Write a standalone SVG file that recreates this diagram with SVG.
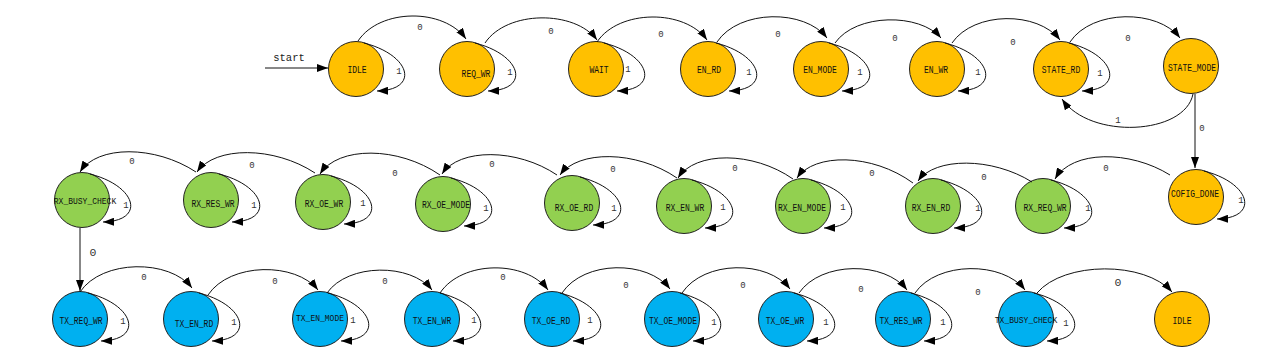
<svg xmlns="http://www.w3.org/2000/svg" width="1280" height="358" viewBox="0 0 1280 358">
<defs>
<marker id="ah" markerUnits="userSpaceOnUse" markerWidth="11" markerHeight="8" refX="11" refY="4" orient="auto"><path d="M0,0 L11,4 L0,8 z" fill="#000"/></marker>
<style>
.n circle{stroke:#222;stroke-width:1}
.y circle{fill:#FFC000}
.g circle{fill:#92D050}
.b circle{fill:#00B0F0}
.n text{font-family:"Liberation Mono",monospace;font-size:10px;fill:#111;text-anchor:middle}
.n text.s{font-size:9px}
#edges path{fill:none;stroke:#111;stroke-width:1;marker-end:url(#ah)}
#edges text{font-family:"Liberation Mono",monospace;font-size:9px;fill:#333;text-anchor:middle}
#edges text.big{font-size:11.5px}
#edges text.st{font-size:10.5px;fill:#222}
</style>
</defs>
<rect width="1280" height="358" fill="#fff"/>
<g id="nodes">
<g id="n_idle" class="n y"><circle cx="356" cy="69" r="27.5"/><text x="357" y="72.5" textLength="19.2" lengthAdjust="spacingAndGlyphs">IDLE</text></g>
<g id="n_req_wr" class="n y"><circle cx="467" cy="69" r="27.5"/><text x="476" y="76.5" textLength="28.8" lengthAdjust="spacingAndGlyphs">REQ_WR</text></g>
<g id="n_wait" class="n y"><circle cx="596" cy="69" r="27.5"/><text x="599" y="72.5" textLength="19.2" lengthAdjust="spacingAndGlyphs">WAIT</text></g>
<g id="n_en_rd" class="n y"><circle cx="708" cy="69" r="27.5"/><text x="709" y="72.5" textLength="24" lengthAdjust="spacingAndGlyphs">EN_RD</text></g>
<g id="n_en_mode" class="n y"><circle cx="821" cy="69" r="27.5"/><text x="820" y="72.5" textLength="33.6" lengthAdjust="spacingAndGlyphs">EN_MODE</text></g>
<g id="n_en_wr" class="n y"><circle cx="937" cy="69" r="27.5"/><text x="936" y="72.5" textLength="24" lengthAdjust="spacingAndGlyphs">EN_WR</text></g>
<g id="n_state_rd" class="n y"><circle cx="1061" cy="69" r="27.5"/><text x="1061" y="72.5" textLength="38.4" lengthAdjust="spacingAndGlyphs">STATE_RD</text></g>
<g id="n_state_mode" class="n y"><circle cx="1191" cy="66" r="27.5"/><text x="1192" y="70.5" textLength="48" lengthAdjust="spacingAndGlyphs">STATE_MODE</text></g>
<g id="n_rx_busy_check" class="n g"><circle cx="82" cy="200" r="27.5"/><text class="s" x="85" y="204" textLength="62.4" lengthAdjust="spacingAndGlyphs">RX_BUSY_CHECK</text></g>
<g id="n_rx_res_wr" class="n g"><circle cx="211" cy="200" r="27.5"/><text x="213" y="206.5" textLength="43.2" lengthAdjust="spacingAndGlyphs">RX_RES_WR</text></g>
<g id="n_rx_oe_wr" class="n g"><circle cx="323" cy="202" r="27.5"/><text x="324" y="206.5" textLength="38.4" lengthAdjust="spacingAndGlyphs">RX_OE_WR</text></g>
<g id="n_rx_oe_mode" class="n g"><circle cx="443" cy="204" r="27.5"/><text x="446" y="207.5" textLength="48" lengthAdjust="spacingAndGlyphs">RX_OE_MODE</text></g>
<g id="n_rx_oe_rd" class="n g"><circle cx="572" cy="203" r="27.5"/><text x="574" y="210.5" textLength="38.4" lengthAdjust="spacingAndGlyphs">RX_OE_RD</text></g>
<g id="n_rx_en_wr" class="n g"><circle cx="684" cy="206" r="27.5"/><text x="685" y="210.5" textLength="38.4" lengthAdjust="spacingAndGlyphs">RX_EN_WR</text></g>
<g id="n_rx_en_mode" class="n g"><circle cx="803" cy="206" r="27.5"/><text x="802" y="210.5" textLength="48" lengthAdjust="spacingAndGlyphs">RX_EN_MODE</text></g>
<g id="n_rx_en_rd" class="n g"><circle cx="933" cy="206" r="27.5"/><text x="931" y="210.5" textLength="38.4" lengthAdjust="spacingAndGlyphs">RX_EN_RD</text></g>
<g id="n_rx_req_wr" class="n g"><circle cx="1043" cy="206" r="27.5"/><text x="1045" y="210.5" textLength="43.2" lengthAdjust="spacingAndGlyphs">RX_REQ_WR</text></g>
<g id="n_cofig_done" class="n y"><circle cx="1196" cy="197" r="27.5"/><text x="1195" y="196.5" textLength="48" lengthAdjust="spacingAndGlyphs">COFIG_DONE</text></g>
<g id="n_tx_req_wr" class="n b"><circle cx="80" cy="319" r="27.5"/><text x="81" y="323.5" textLength="43.2" lengthAdjust="spacingAndGlyphs">TX_REQ_WR</text></g>
<g id="n_tx_en_rd" class="n b"><circle cx="191" cy="319" r="27.5"/><text x="194" y="326.5" textLength="38.4" lengthAdjust="spacingAndGlyphs">TX_EN_RD</text></g>
<g id="n_tx_en_mode" class="n b"><circle cx="320" cy="319" r="27.5"/><text class="s" x="320" y="321" textLength="48" lengthAdjust="spacingAndGlyphs">TX_EN_MODE</text></g>
<g id="n_tx_en_wr" class="n b"><circle cx="432" cy="319" r="27.5"/><text x="432" y="323.5" textLength="38.4" lengthAdjust="spacingAndGlyphs">TX_EN_WR</text></g>
<g id="n_tx_oe_rd" class="n b"><circle cx="552" cy="319" r="27.5"/><text x="551" y="323.5" textLength="38.4" lengthAdjust="spacingAndGlyphs">TX_OE_RD</text></g>
<g id="n_tx_oe_mode" class="n b"><circle cx="672" cy="319" r="27.5"/><text x="673" y="323.5" textLength="48" lengthAdjust="spacingAndGlyphs">TX_OE_MODE</text></g>
<g id="n_tx_oe_wr" class="n b"><circle cx="786" cy="319" r="27.5"/><text x="785" y="323.5" textLength="38.4" lengthAdjust="spacingAndGlyphs">TX_OE_WR</text></g>
<g id="n_tx_res_wr" class="n b"><circle cx="903" cy="319" r="27.5"/><text x="901" y="323.5" textLength="43.2" lengthAdjust="spacingAndGlyphs">TX_RES_WR</text></g>
<g id="n_tx_busy_check" class="n b"><circle cx="1026" cy="319" r="27.5"/><text class="s" x="1026" y="323" textLength="62.4" lengthAdjust="spacingAndGlyphs">TX_BUSY_CHECK</text></g>
<g id="n_idle2" class="n y"><circle cx="1182" cy="319" r="27.5"/><text x="1182" y="323.5" textLength="19.2" lengthAdjust="spacingAndGlyphs">IDLE</text></g>
</g>
<g id="edges">
<path d="M265,68 L328,68"/>
<text class="st" x="289" y="61">start</text>
<path d="M358,41 C380,8 444,8 466,39"/>
<path d="M485,43 C507,10 575,10 597,40"/>
<path d="M597,42 C619,9 685,9 707,40"/>
<path d="M717,42 C739,9 805,9 827,38"/>
<path d="M835,43 C856,13 920,13 941,38"/>
<path d="M952,43 C974,11 1038,11 1060,40"/>
<path d="M1070,42 C1092,9 1158,9 1180,38"/>
<text x="420" y="30">0</text><text x="551" y="34">0</text><text x="661" y="37">0</text><text x="778" y="37">0</text><text x="895" y="41">0</text><text x="1013" y="45">0</text><text x="1128" y="41">0</text>
<path d="M1193,94 C1185,135 1090,140 1062,99"/>
<text x="1118" y="123">1</text>
<path d="M1195,94 L1195,168"/>
<text x="1202" y="131">0</text>
<path d="M1170,175 C1130,150 1072,150 1055,179"/>
<path d="M1032,182 C992,157 935,157 918,181"/>
<path d="M913,183 C872,153 814,153 797,178"/>
<path d="M793,179 C753,151 695,151 678,178"/>
<path d="M677,178 C636,150 578,150 560,175"/>
<path d="M557,175 C517,148 459,148 442,174"/>
<path d="M440,175 C398,146 338,146 320,174"/>
<path d="M315,173 C274,146 215,146 197,172"/>
<path d="M196,172 C155,145 97,145 80,172"/>
<text x="132" y="164">0</text><text x="252" y="168">0</text><text x="395" y="176">0</text><text x="492" y="167">0</text><text x="613" y="172">0</text><text x="735" y="171">0</text><text x="872" y="176">0</text><text x="984" y="180">0</text><text x="1106" y="171">0</text>
<path d="M80,228 L80,291"/>
<text class="big" x="93" y="256">0</text>
<path d="M80,292 C102,259 170,259 192,288"/>
<path d="M208,295 C230,262 296,262 318,290"/>
<path d="M327,293 C348,263 411,263 432,290"/>
<path d="M440,293 C462,260 526,260 548,290"/>
<path d="M562,293 C584,260 648,260 670,289"/>
<path d="M682,293 C704,260 768,260 790,289"/>
<path d="M799,293 C821,261 885,261 907,290"/>
<path d="M915,293 C937,261 1003,261 1025,290"/>
<path d="M1037,293 C1064,261 1145,261 1172,292"/>
<text x="144" y="280">0</text><text x="275" y="284">0</text><text x="385" y="284">0</text><text x="503" y="280">0</text><text x="626" y="288">0</text><text x="743" y="288">0</text><text x="861" y="292">0</text><text x="978" y="295">0</text><text class="big" x="1118" y="286">0</text>
<path d="M364,43 C411,55 420,90 377,91"/>
<path d="M475,43 C522,55 531,90 488,91"/>
<path d="M604,43 C651,55 660,90 617,91"/>
<path d="M716,43 C763,55 772,90 729,91"/>
<path d="M829,43 C876,55 885,90 842,91"/>
<path d="M945,43 C992,55 1001,90 958,91"/>
<path d="M1069,43 C1116,55 1125,90 1082,91"/>
<text x="399" y="74">1</text><text x="510" y="75">1</text><text x="628" y="72">1</text><text x="749" y="75">1</text><text x="860" y="75">1</text><text x="978" y="75">1</text><text x="1100" y="76">1</text>
<path d="M90,174 C137,186 146,221 103,222"/>
<path d="M219,174 C266,186 275,221 232,222"/>
<path d="M331,176 C378,188 387,223 344,224"/>
<path d="M451,178 C498,190 507,225 464,226"/>
<path d="M580,177 C627,189 636,224 593,225"/>
<path d="M692,180 C739,192 748,227 705,228"/>
<path d="M811,180 C858,192 867,227 824,228"/>
<path d="M941,180 C988,192 997,227 954,228"/>
<path d="M1051,180 C1098,192 1107,227 1064,228"/>
<path d="M1204,171 C1251,183 1260,218 1217,219"/>
<text x="126" y="208">1</text><text x="254" y="208">1</text><text x="363" y="206">1</text><text x="486" y="211">1</text><text x="614" y="211">1</text><text x="723" y="210">1</text><text x="843" y="210">1</text><text x="978" y="211">1</text><text x="1088" y="211">1</text><text x="1241" y="203">1</text>
<path d="M88,293 C135,305 144,340 101,341"/>
<path d="M199,293 C246,305 255,340 212,341"/>
<path d="M328,293 C375,305 384,340 341,341"/>
<path d="M440,293 C487,305 496,340 453,341"/>
<path d="M560,293 C607,305 616,340 573,341"/>
<path d="M680,293 C727,305 736,340 693,341"/>
<path d="M794,293 C841,305 850,340 807,341"/>
<path d="M911,293 C958,305 967,340 924,341"/>
<path d="M1034,293 C1081,305 1090,340 1047,341"/>
<text x="123" y="324">1</text><text x="234" y="325">1</text><text x="353" y="323">1</text><text x="474" y="323">1</text><text x="590" y="323">1</text><text x="714" y="325">1</text><text x="826" y="325">1</text><text x="943" y="325">1</text><text x="1066" y="326">1</text>
</g>
</svg>
